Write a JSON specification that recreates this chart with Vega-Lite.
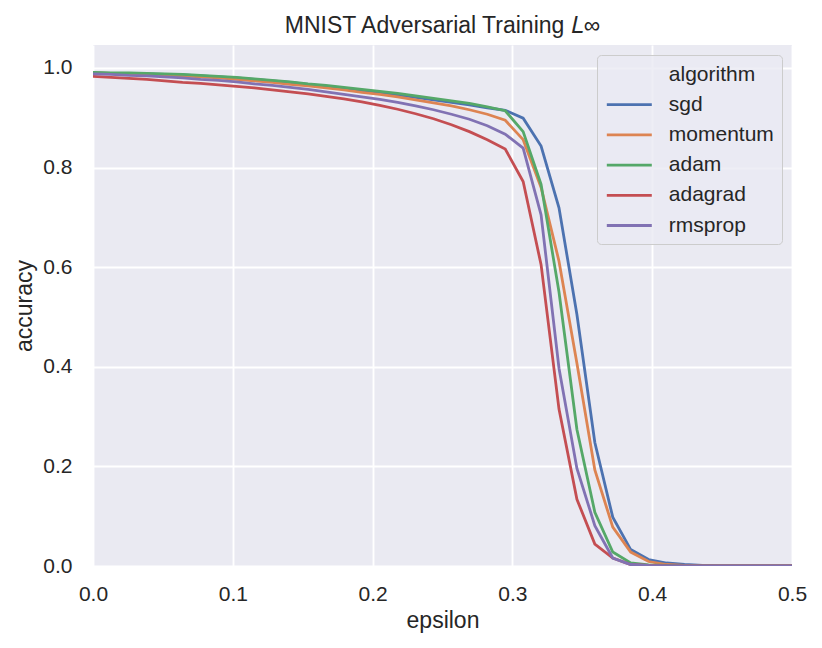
{
  "$schema": "https://vega.github.io/schema/vega-lite/v6.json",
  "autosize": "none",
  "padding": {"left": 93, "top": 45, "right": 30, "bottom": 82},
  "width": 699,
  "height": 521,
  "background": "white",
  "title": {
    "text": "MNIST Adversarial Training 𝐿∞",
    "font": "Liberation Sans",
    "fontSize": 23,
    "fontWeight": "normal",
    "color": "#262626",
    "anchor": "middle",
    "frame": "group",
    "baseline": "alphabetic",
    "offset": 13,
    "dy": 24
  },
  "data": {
    "values": [
      {"algorithm": "sgd", "epsilon": 0, "accuracy": 0.990},
      {"algorithm": "sgd", "epsilon": 0.01282, "accuracy": 0.989},
      {"algorithm": "sgd", "epsilon": 0.02564, "accuracy": 0.989},
      {"algorithm": "sgd", "epsilon": 0.03846, "accuracy": 0.988},
      {"algorithm": "sgd", "epsilon": 0.05128, "accuracy": 0.987},
      {"algorithm": "sgd", "epsilon": 0.0641, "accuracy": 0.986},
      {"algorithm": "sgd", "epsilon": 0.07692, "accuracy": 0.984},
      {"algorithm": "sgd", "epsilon": 0.08974, "accuracy": 0.982},
      {"algorithm": "sgd", "epsilon": 0.10256, "accuracy": 0.980},
      {"algorithm": "sgd", "epsilon": 0.11538, "accuracy": 0.977},
      {"algorithm": "sgd", "epsilon": 0.12821, "accuracy": 0.974},
      {"algorithm": "sgd", "epsilon": 0.14103, "accuracy": 0.971},
      {"algorithm": "sgd", "epsilon": 0.15385, "accuracy": 0.967},
      {"algorithm": "sgd", "epsilon": 0.16667, "accuracy": 0.963},
      {"algorithm": "sgd", "epsilon": 0.17949, "accuracy": 0.959},
      {"algorithm": "sgd", "epsilon": 0.19231, "accuracy": 0.955},
      {"algorithm": "sgd", "epsilon": 0.20513, "accuracy": 0.951},
      {"algorithm": "sgd", "epsilon": 0.21795, "accuracy": 0.946},
      {"algorithm": "sgd", "epsilon": 0.23077, "accuracy": 0.941},
      {"algorithm": "sgd", "epsilon": 0.24359, "accuracy": 0.936},
      {"algorithm": "sgd", "epsilon": 0.25641, "accuracy": 0.931},
      {"algorithm": "sgd", "epsilon": 0.26923, "accuracy": 0.926},
      {"algorithm": "sgd", "epsilon": 0.28205, "accuracy": 0.920},
      {"algorithm": "sgd", "epsilon": 0.29487, "accuracy": 0.915},
      {"algorithm": "sgd", "epsilon": 0.30769, "accuracy": 0.899},
      {"algorithm": "sgd", "epsilon": 0.32051, "accuracy": 0.843},
      {"algorithm": "sgd", "epsilon": 0.33333, "accuracy": 0.719},
      {"algorithm": "sgd", "epsilon": 0.34615, "accuracy": 0.505},
      {"algorithm": "sgd", "epsilon": 0.35897, "accuracy": 0.248},
      {"algorithm": "sgd", "epsilon": 0.37179, "accuracy": 0.098},
      {"algorithm": "sgd", "epsilon": 0.38462, "accuracy": 0.033},
      {"algorithm": "sgd", "epsilon": 0.39744, "accuracy": 0.013},
      {"algorithm": "sgd", "epsilon": 0.41026, "accuracy": 0.006},
      {"algorithm": "sgd", "epsilon": 0.42308, "accuracy": 0.003},
      {"algorithm": "sgd", "epsilon": 0.4359, "accuracy": 0.001},
      {"algorithm": "sgd", "epsilon": 0.44872, "accuracy": 0},
      {"algorithm": "sgd", "epsilon": 0.46154, "accuracy": 0},
      {"algorithm": "sgd", "epsilon": 0.47436, "accuracy": 0},
      {"algorithm": "sgd", "epsilon": 0.48718, "accuracy": 0},
      {"algorithm": "sgd", "epsilon": 0.5, "accuracy": 0},
      {"algorithm": "momentum", "epsilon": 0, "accuracy": 0.990},
      {"algorithm": "momentum", "epsilon": 0.01282, "accuracy": 0.989},
      {"algorithm": "momentum", "epsilon": 0.02564, "accuracy": 0.988},
      {"algorithm": "momentum", "epsilon": 0.03846, "accuracy": 0.987},
      {"algorithm": "momentum", "epsilon": 0.05128, "accuracy": 0.986},
      {"algorithm": "momentum", "epsilon": 0.0641, "accuracy": 0.984},
      {"algorithm": "momentum", "epsilon": 0.07692, "accuracy": 0.982},
      {"algorithm": "momentum", "epsilon": 0.08974, "accuracy": 0.980},
      {"algorithm": "momentum", "epsilon": 0.10256, "accuracy": 0.977},
      {"algorithm": "momentum", "epsilon": 0.11538, "accuracy": 0.974},
      {"algorithm": "momentum", "epsilon": 0.12821, "accuracy": 0.971},
      {"algorithm": "momentum", "epsilon": 0.14103, "accuracy": 0.967},
      {"algorithm": "momentum", "epsilon": 0.15385, "accuracy": 0.964},
      {"algorithm": "momentum", "epsilon": 0.16667, "accuracy": 0.960},
      {"algorithm": "momentum", "epsilon": 0.17949, "accuracy": 0.956},
      {"algorithm": "momentum", "epsilon": 0.19231, "accuracy": 0.951},
      {"algorithm": "momentum", "epsilon": 0.20513, "accuracy": 0.947},
      {"algorithm": "momentum", "epsilon": 0.21795, "accuracy": 0.942},
      {"algorithm": "momentum", "epsilon": 0.23077, "accuracy": 0.936},
      {"algorithm": "momentum", "epsilon": 0.24359, "accuracy": 0.930},
      {"algorithm": "momentum", "epsilon": 0.25641, "accuracy": 0.924},
      {"algorithm": "momentum", "epsilon": 0.26923, "accuracy": 0.916},
      {"algorithm": "momentum", "epsilon": 0.28205, "accuracy": 0.907},
      {"algorithm": "momentum", "epsilon": 0.29487, "accuracy": 0.895},
      {"algorithm": "momentum", "epsilon": 0.30769, "accuracy": 0.856},
      {"algorithm": "momentum", "epsilon": 0.32051, "accuracy": 0.760},
      {"algorithm": "momentum", "epsilon": 0.33333, "accuracy": 0.612},
      {"algorithm": "momentum", "epsilon": 0.34615, "accuracy": 0.407},
      {"algorithm": "momentum", "epsilon": 0.35897, "accuracy": 0.193},
      {"algorithm": "momentum", "epsilon": 0.37179, "accuracy": 0.078},
      {"algorithm": "momentum", "epsilon": 0.38462, "accuracy": 0.028},
      {"algorithm": "momentum", "epsilon": 0.39744, "accuracy": 0.009},
      {"algorithm": "momentum", "epsilon": 0.41026, "accuracy": 0.003},
      {"algorithm": "momentum", "epsilon": 0.42308, "accuracy": 0.001},
      {"algorithm": "momentum", "epsilon": 0.4359, "accuracy": 0},
      {"algorithm": "momentum", "epsilon": 0.44872, "accuracy": 0},
      {"algorithm": "momentum", "epsilon": 0.46154, "accuracy": 0},
      {"algorithm": "momentum", "epsilon": 0.47436, "accuracy": 0},
      {"algorithm": "momentum", "epsilon": 0.48718, "accuracy": 0},
      {"algorithm": "momentum", "epsilon": 0.5, "accuracy": 0},
      {"algorithm": "adam", "epsilon": 0, "accuracy": 0.991},
      {"algorithm": "adam", "epsilon": 0.01282, "accuracy": 0.990},
      {"algorithm": "adam", "epsilon": 0.02564, "accuracy": 0.990},
      {"algorithm": "adam", "epsilon": 0.03846, "accuracy": 0.989},
      {"algorithm": "adam", "epsilon": 0.05128, "accuracy": 0.988},
      {"algorithm": "adam", "epsilon": 0.0641, "accuracy": 0.987},
      {"algorithm": "adam", "epsilon": 0.07692, "accuracy": 0.985},
      {"algorithm": "adam", "epsilon": 0.08974, "accuracy": 0.983},
      {"algorithm": "adam", "epsilon": 0.10256, "accuracy": 0.981},
      {"algorithm": "adam", "epsilon": 0.11538, "accuracy": 0.978},
      {"algorithm": "adam", "epsilon": 0.12821, "accuracy": 0.975},
      {"algorithm": "adam", "epsilon": 0.14103, "accuracy": 0.972},
      {"algorithm": "adam", "epsilon": 0.15385, "accuracy": 0.968},
      {"algorithm": "adam", "epsilon": 0.16667, "accuracy": 0.965},
      {"algorithm": "adam", "epsilon": 0.17949, "accuracy": 0.961},
      {"algorithm": "adam", "epsilon": 0.19231, "accuracy": 0.957},
      {"algorithm": "adam", "epsilon": 0.20513, "accuracy": 0.953},
      {"algorithm": "adam", "epsilon": 0.21795, "accuracy": 0.949},
      {"algorithm": "adam", "epsilon": 0.23077, "accuracy": 0.944},
      {"algorithm": "adam", "epsilon": 0.24359, "accuracy": 0.939},
      {"algorithm": "adam", "epsilon": 0.25641, "accuracy": 0.934},
      {"algorithm": "adam", "epsilon": 0.26923, "accuracy": 0.929},
      {"algorithm": "adam", "epsilon": 0.28205, "accuracy": 0.922},
      {"algorithm": "adam", "epsilon": 0.29487, "accuracy": 0.914},
      {"algorithm": "adam", "epsilon": 0.30769, "accuracy": 0.872},
      {"algorithm": "adam", "epsilon": 0.32051, "accuracy": 0.766},
      {"algorithm": "adam", "epsilon": 0.33333, "accuracy": 0.550},
      {"algorithm": "adam", "epsilon": 0.34615, "accuracy": 0.274},
      {"algorithm": "adam", "epsilon": 0.35897, "accuracy": 0.108},
      {"algorithm": "adam", "epsilon": 0.37179, "accuracy": 0.028},
      {"algorithm": "adam", "epsilon": 0.38462, "accuracy": 0.006},
      {"algorithm": "adam", "epsilon": 0.39744, "accuracy": 0.002},
      {"algorithm": "adam", "epsilon": 0.41026, "accuracy": 0.001},
      {"algorithm": "adam", "epsilon": 0.42308, "accuracy": 0},
      {"algorithm": "adam", "epsilon": 0.4359, "accuracy": 0},
      {"algorithm": "adam", "epsilon": 0.44872, "accuracy": 0},
      {"algorithm": "adam", "epsilon": 0.46154, "accuracy": 0},
      {"algorithm": "adam", "epsilon": 0.47436, "accuracy": 0},
      {"algorithm": "adam", "epsilon": 0.48718, "accuracy": 0},
      {"algorithm": "adam", "epsilon": 0.5, "accuracy": 0},
      {"algorithm": "adagrad", "epsilon": 0, "accuracy": 0.983},
      {"algorithm": "adagrad", "epsilon": 0.01282, "accuracy": 0.981},
      {"algorithm": "adagrad", "epsilon": 0.02564, "accuracy": 0.979},
      {"algorithm": "adagrad", "epsilon": 0.03846, "accuracy": 0.977},
      {"algorithm": "adagrad", "epsilon": 0.05128, "accuracy": 0.974},
      {"algorithm": "adagrad", "epsilon": 0.0641, "accuracy": 0.971},
      {"algorithm": "adagrad", "epsilon": 0.07692, "accuracy": 0.969},
      {"algorithm": "adagrad", "epsilon": 0.08974, "accuracy": 0.966},
      {"algorithm": "adagrad", "epsilon": 0.10256, "accuracy": 0.963},
      {"algorithm": "adagrad", "epsilon": 0.11538, "accuracy": 0.960},
      {"algorithm": "adagrad", "epsilon": 0.12821, "accuracy": 0.956},
      {"algorithm": "adagrad", "epsilon": 0.14103, "accuracy": 0.952},
      {"algorithm": "adagrad", "epsilon": 0.15385, "accuracy": 0.948},
      {"algorithm": "adagrad", "epsilon": 0.16667, "accuracy": 0.943},
      {"algorithm": "adagrad", "epsilon": 0.17949, "accuracy": 0.938},
      {"algorithm": "adagrad", "epsilon": 0.19231, "accuracy": 0.932},
      {"algorithm": "adagrad", "epsilon": 0.20513, "accuracy": 0.925},
      {"algorithm": "adagrad", "epsilon": 0.21795, "accuracy": 0.917},
      {"algorithm": "adagrad", "epsilon": 0.23077, "accuracy": 0.908},
      {"algorithm": "adagrad", "epsilon": 0.24359, "accuracy": 0.898},
      {"algorithm": "adagrad", "epsilon": 0.25641, "accuracy": 0.886},
      {"algorithm": "adagrad", "epsilon": 0.26923, "accuracy": 0.872},
      {"algorithm": "adagrad", "epsilon": 0.28205, "accuracy": 0.856},
      {"algorithm": "adagrad", "epsilon": 0.29487, "accuracy": 0.837},
      {"algorithm": "adagrad", "epsilon": 0.30769, "accuracy": 0.772},
      {"algorithm": "adagrad", "epsilon": 0.32051, "accuracy": 0.605},
      {"algorithm": "adagrad", "epsilon": 0.33333, "accuracy": 0.315},
      {"algorithm": "adagrad", "epsilon": 0.34615, "accuracy": 0.134},
      {"algorithm": "adagrad", "epsilon": 0.35897, "accuracy": 0.044},
      {"algorithm": "adagrad", "epsilon": 0.37179, "accuracy": 0.016},
      {"algorithm": "adagrad", "epsilon": 0.38462, "accuracy": 0.003},
      {"algorithm": "adagrad", "epsilon": 0.39744, "accuracy": 0.001},
      {"algorithm": "adagrad", "epsilon": 0.41026, "accuracy": 0},
      {"algorithm": "adagrad", "epsilon": 0.42308, "accuracy": 0},
      {"algorithm": "adagrad", "epsilon": 0.4359, "accuracy": 0},
      {"algorithm": "adagrad", "epsilon": 0.44872, "accuracy": 0},
      {"algorithm": "adagrad", "epsilon": 0.46154, "accuracy": 0},
      {"algorithm": "adagrad", "epsilon": 0.47436, "accuracy": 0},
      {"algorithm": "adagrad", "epsilon": 0.48718, "accuracy": 0},
      {"algorithm": "adagrad", "epsilon": 0.5, "accuracy": 0},
      {"algorithm": "rmsprop", "epsilon": 0, "accuracy": 0.988},
      {"algorithm": "rmsprop", "epsilon": 0.01282, "accuracy": 0.987},
      {"algorithm": "rmsprop", "epsilon": 0.02564, "accuracy": 0.985},
      {"algorithm": "rmsprop", "epsilon": 0.03846, "accuracy": 0.984},
      {"algorithm": "rmsprop", "epsilon": 0.05128, "accuracy": 0.982},
      {"algorithm": "rmsprop", "epsilon": 0.0641, "accuracy": 0.980},
      {"algorithm": "rmsprop", "epsilon": 0.07692, "accuracy": 0.977},
      {"algorithm": "rmsprop", "epsilon": 0.08974, "accuracy": 0.975},
      {"algorithm": "rmsprop", "epsilon": 0.10256, "accuracy": 0.972},
      {"algorithm": "rmsprop", "epsilon": 0.11538, "accuracy": 0.968},
      {"algorithm": "rmsprop", "epsilon": 0.12821, "accuracy": 0.965},
      {"algorithm": "rmsprop", "epsilon": 0.14103, "accuracy": 0.961},
      {"algorithm": "rmsprop", "epsilon": 0.15385, "accuracy": 0.957},
      {"algorithm": "rmsprop", "epsilon": 0.16667, "accuracy": 0.952},
      {"algorithm": "rmsprop", "epsilon": 0.17949, "accuracy": 0.947},
      {"algorithm": "rmsprop", "epsilon": 0.19231, "accuracy": 0.942},
      {"algorithm": "rmsprop", "epsilon": 0.20513, "accuracy": 0.937},
      {"algorithm": "rmsprop", "epsilon": 0.21795, "accuracy": 0.931},
      {"algorithm": "rmsprop", "epsilon": 0.23077, "accuracy": 0.924},
      {"algorithm": "rmsprop", "epsilon": 0.24359, "accuracy": 0.916},
      {"algorithm": "rmsprop", "epsilon": 0.25641, "accuracy": 0.907},
      {"algorithm": "rmsprop", "epsilon": 0.26923, "accuracy": 0.897},
      {"algorithm": "rmsprop", "epsilon": 0.28205, "accuracy": 0.884},
      {"algorithm": "rmsprop", "epsilon": 0.29487, "accuracy": 0.867},
      {"algorithm": "rmsprop", "epsilon": 0.30769, "accuracy": 0.839},
      {"algorithm": "rmsprop", "epsilon": 0.32051, "accuracy": 0.705},
      {"algorithm": "rmsprop", "epsilon": 0.33333, "accuracy": 0.397},
      {"algorithm": "rmsprop", "epsilon": 0.34615, "accuracy": 0.196},
      {"algorithm": "rmsprop", "epsilon": 0.35897, "accuracy": 0.081},
      {"algorithm": "rmsprop", "epsilon": 0.37179, "accuracy": 0.016},
      {"algorithm": "rmsprop", "epsilon": 0.38462, "accuracy": 0.003},
      {"algorithm": "rmsprop", "epsilon": 0.39744, "accuracy": 0.001},
      {"algorithm": "rmsprop", "epsilon": 0.41026, "accuracy": 0},
      {"algorithm": "rmsprop", "epsilon": 0.42308, "accuracy": 0},
      {"algorithm": "rmsprop", "epsilon": 0.4359, "accuracy": 0},
      {"algorithm": "rmsprop", "epsilon": 0.44872, "accuracy": 0},
      {"algorithm": "rmsprop", "epsilon": 0.46154, "accuracy": 0},
      {"algorithm": "rmsprop", "epsilon": 0.47436, "accuracy": 0},
      {"algorithm": "rmsprop", "epsilon": 0.48718, "accuracy": 0},
      {"algorithm": "rmsprop", "epsilon": 0.5, "accuracy": 0}
    ]
  },
  "mark": {"type": "line", "strokeWidth": 2.8, "clip": true},
  "encoding": {
    "x": {
      "field": "epsilon",
      "type": "quantitative",
      "title": "epsilon",
      "scale": {"domain": [0, 0.5], "nice": false, "zero": false},
      "axis": {
        "values": [0, 0.1, 0.2, 0.3, 0.4, 0.5],
        "format": ".1f",
        "labelFlush": false,
        "labelPadding": 17,
        "titlePadding": 5
      }
    },
    "y": {
      "field": "accuracy",
      "type": "quantitative",
      "title": "accuracy",
      "scale": {"domain": [0, 1.046], "nice": false},
      "axis": {
        "values": [0, 0.2, 0.4, 0.6, 0.8, 1.0],
        "format": ".1f",
        "labelFlush": false,
        "labelPadding": 21,
        "titlePadding": 6
      }
    },
    "color": {
      "field": "algorithm",
      "type": "nominal",
      "sort": null,
      "scale": {
        "domain": ["algorithm", "sgd", "momentum", "adam", "adagrad", "rmsprop"],
        "range": ["rgba(0,0,0,0)", "#4C72B0", "#DD8452", "#55A868", "#C44E52", "#8172B3"]
      },
      "legend": {
        "title": null,
        "orient": "top-right",
        "offset": 10
      }
    }
  },
  "config": {
    "view": {"fill": "#EAEAF2", "stroke": null},
    "axis": {
      "domain": false,
      "ticks": false,
      "tickSize": 0,
      "grid": true,
      "gridColor": "#FFFFFF",
      "gridWidth": 1.9,
      "labelFont": "Liberation Sans",
      "labelFontSize": 21,
      "labelColor": "#262626",
      "titleFont": "Liberation Sans",
      "titleFontSize": 23,
      "titleFontWeight": "normal",
      "titleColor": "#262626"
    },
    "legend": {
      "labelFont": "Liberation Sans",
      "labelFontSize": 21,
      "labelColor": "#262626",
      "symbolType": "M-2.32,0H2.32",
      "symbolSize": 376,
      "symbolOffset": 12.8,
      "symbolStrokeWidth": 2.8,
      "labelOffset": 28,
      "rowPadding": 8.2,
      "padding": 8,
      "fillColor": "rgba(234,234,242,0.8)",
      "strokeColor": "#CCCCCC",
      "cornerRadius": 4
    }
  }
}
